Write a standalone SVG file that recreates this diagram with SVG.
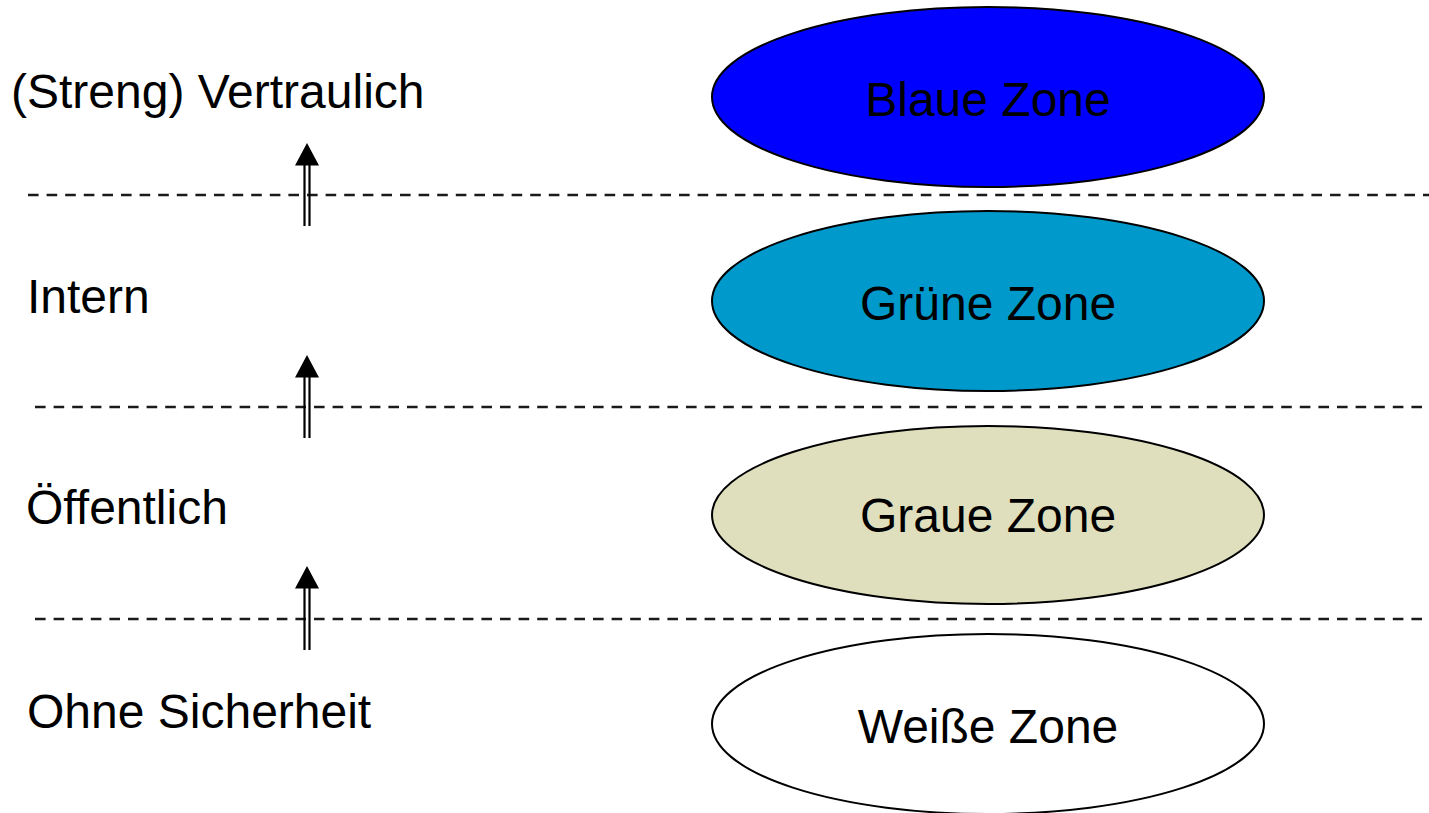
<svg xmlns="http://www.w3.org/2000/svg" width="1429" height="813" viewBox="0 0 1429 813">
<style>
text{font-family:"Liberation Sans",Arial,sans-serif;font-size:48px;fill:#000}
.zone{stroke:#000;stroke-width:2}
.dash{stroke:#1a1a1a;stroke-width:2.5;stroke-dasharray:10.6 8}
.shaft{stroke:#000;stroke-width:2.2}
</style>
<rect width="1429" height="813" fill="#fff"/>
<g id="connectors">
<line class="dash" x1="28" y1="195" x2="1429" y2="195"/>
<line class="dash" x1="35" y1="407" x2="1429" y2="407"/>
<line class="dash" x1="35" y1="619" x2="1429" y2="619"/>
<g id="arrow1">
<line class="shaft" x1="304.5" y1="163" x2="304.5" y2="226"/>
<line class="shaft" x1="309.5" y1="163" x2="309.5" y2="226"/>
<polygon points="307,143 295,165.5 319,165.5" fill="#000"/>
</g>
<g id="arrow2">
<line class="shaft" x1="304.5" y1="375" x2="304.5" y2="438"/>
<line class="shaft" x1="309.5" y1="375" x2="309.5" y2="438"/>
<polygon points="307,355 295,377.5 319,377.5" fill="#000"/>
</g>
<g id="arrow3">
<line class="shaft" x1="304.5" y1="586" x2="304.5" y2="650"/>
<line class="shaft" x1="309.5" y1="586" x2="309.5" y2="650"/>
<polygon points="307,566 295,588.5 319,588.5" fill="#000"/>
</g>
</g>
<g id="level-vertraulich"><text x="11" y="108">(Streng) Vertraulich</text></g>
<g id="level-intern"><text x="27" y="313">Intern</text></g>
<g id="level-oeffentlich"><text x="26" y="524">Öffentlich</text></g>
<g id="level-ohne"><text x="27" y="728">Ohne Sicherheit</text></g>
<g id="zone-blau">
<ellipse class="zone" cx="988" cy="97" rx="276" ry="90" fill="#0000FF"/>
<text x="988" y="116" text-anchor="middle">Blaue Zone</text>
</g>
<g id="zone-gruen">
<ellipse class="zone" cx="988" cy="301" rx="276" ry="90" fill="#0099CC"/>
<text x="988" y="320" text-anchor="middle">Grüne Zone</text>
</g>
<g id="zone-grau">
<ellipse class="zone" cx="988" cy="515" rx="276" ry="89" fill="#DFDFBD"/>
<text x="988" y="532" text-anchor="middle">Graue Zone</text>
</g>
<g id="zone-weiss">
<ellipse class="zone" cx="988" cy="724" rx="276" ry="90" fill="#FFFFFF"/>
<text x="988" y="743" text-anchor="middle">Weiße Zone</text>
</g>
</svg>
